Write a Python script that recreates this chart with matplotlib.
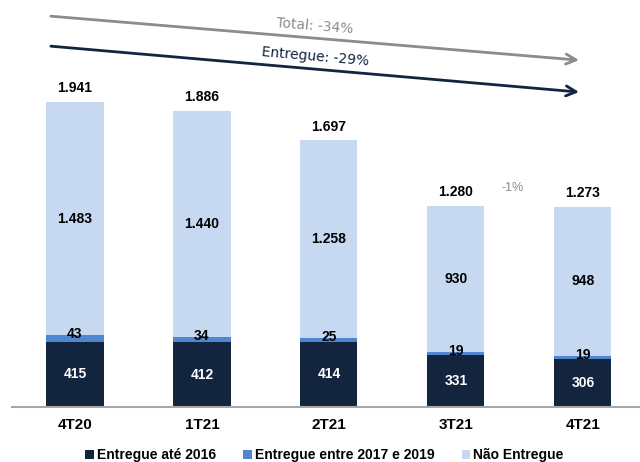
import numpy as np
import matplotlib
matplotlib.use('Agg')
import matplotlib.pyplot as plt

# Chart data
quarters = ['4T20', '1T21', '2T21', '3T21', '4T21']
entregue_ate_2016 = [415, 412, 414, 331, 306]
entregue_2017_2019 = [43, 34, 25, 19, 19]
nao_entregue = [1483, 1440, 1258, 930, 948]
totals = [1941, 1886, 1697, 1280, 1273]
total_labels = ['1.941', '1.886', '1.697', '1.280', '1.273']
nao_labels = ['1.483', '1.440', '1.258', '930', '948']

dark = '#13243f'
mid = '#4f86d0'
light = '#c6d9f0'
gray = '#8c8c8c'

plt.rcParams['font.family'] = ['Liberation Sans', 'DejaVu Sans']

fig = plt.figure(figsize=(6.4, 4.62), dpi=100)
ax = fig.add_axes([12 / 640, 55 / 462, 628 / 640, 407 / 462])

x = np.arange(len(quarters))
w = 0.45
b1 = np.array(entregue_ate_2016)
b2 = np.array(entregue_2017_2019)
b3 = np.array(nao_entregue)

ax.bar(x, b1, w, color=dark, label='Entregue até 2016')
ax.bar(x, b2, w, bottom=b1, color=mid, label='Entregue entre 2017 e 2019')
ax.bar(x, b3, w, bottom=b1 + b2, color=light, label='Não Entregue')

for i in range(len(x)):
    ax.text(x[i], b1[i] / 2, str(b1[i]), ha='center', va='center',
            color='white', fontsize=10, fontweight='bold')
    ax.text(x[i], b1[i] + b2[i] + 6, str(b2[i]), ha='center', va='center',
            color='black', fontsize=10, fontweight='bold')
    ax.text(x[i], b1[i] + b2[i] + b3[i] / 2, nao_labels[i], ha='center',
            va='center', color='black', fontsize=10, fontweight='bold')
    ax.annotate(total_labels[i], (x[i], totals[i]), xytext=(0, 10),
                textcoords='offset points', ha='center', va='center',
                fontsize=10, fontweight='bold')

# trend arrows
ax.annotate('', xy=(3.97, 2208), xytext=(-0.19, 2488),
            arrowprops=dict(arrowstyle='->', color=gray, lw=2,
                            mutation_scale=18, shrinkA=0, shrinkB=0))
ax.annotate('', xy=(3.97, 2005), xytext=(-0.19, 2297),
            arrowprops=dict(arrowstyle='->', color=dark, lw=2,
                            mutation_scale=18, shrinkA=0, shrinkB=0))
ax.text(1.89, 2425, 'Total: -34%', ha='center', va='center', color=gray,
        fontsize=10, rotation=-4.7, family='DejaVu Sans')
ax.text(1.89, 2227, 'Entregue: -29%', ha='center', va='center', color=dark,
        fontsize=10, rotation=-5, family='DejaVu Sans')
ax.text(3.45, 1394, '-1%', ha='center', va='center', color=gray, fontsize=9)

ax.set_xlim(-0.496, 4.45)
ax.set_ylim(0, 2591)
ax.set_xticks(x)
ax.set_xticklabels(quarters, fontsize=11, fontweight='bold')
ax.tick_params(axis='x', length=0, pad=8)
ax.set_yticks([])
for s in ['top', 'right', 'left']:
    ax.spines[s].set_visible(False)
ax.spines['bottom'].set_color('#a6a6a6')
ax.spines['bottom'].set_linewidth(1.5)

leg = fig.legend(loc='center', bbox_to_anchor=(0.507, 7 / 462), ncol=3,
                 frameon=False, handlelength=0.6, handleheight=0.6,
                 handletextpad=0.2, columnspacing=2.0,
                 prop={'size': 10, 'weight': 'bold'})

fig.savefig('out.png', dpi=100)
